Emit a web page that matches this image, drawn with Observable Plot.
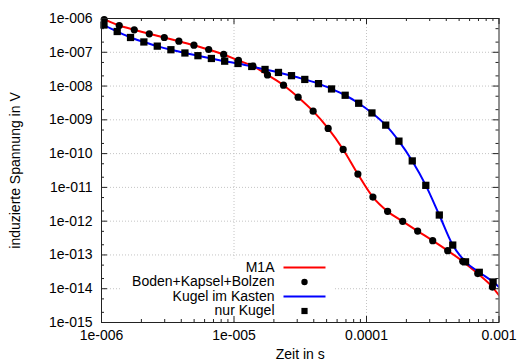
<!DOCTYPE html>
<html><head><meta charset="utf-8">
<script src="https://cdn.jsdelivr.net/npm/d3@7"></script>
<script src="https://cdn.jsdelivr.net/npm/@observablehq/plot@0.6"></script>
<style>body{margin:0;background:#fff}svg{display:block}</style>
</head><body><div id="chart"></div>
<script>
// Boden+Kapsel+Bolzen (circles) and M1A line
const bkbT = [1.048e-6,1.361e-6,1.767e-6,2.294e-6,2.978e-6,3.838e-6,4.985e-6,6.44e-6,8.357e-6,1.080e-5,1.39e-5,1.789e-5,2.363e-5,3.047e-5,3.955e-5,5.135e-5,6.666e-5,8.61e-5,1.118e-4,1.443e-4,1.875e-4,2.432e-4,3.160e-4,4.10e-4,5.325e-4,6.916e-4,8.916e-4];
const bkbV = [9.34e-7,6.21e-7,4.63e-7,3.53e-7,2.74e-7,2.13e-7,1.62e-7,1.21e-7,8.61e-8,5.72e-8,3.88e-8,2.13e-8,1.06e-8,4.70e-9,1.81e-9,5.57e-10,1.33e-10,2.47e-11,5.16e-12,1.95e-12,9.86e-13,5.09e-13,2.65e-13,1.34e-13,6.47e-14,2.80e-14,1.12e-14];
const m1aEndT = [1e-6, 1e-3];
const m1aEndV = [1.0e-6, 6.4e-15];
// nur Kugel (squares) and Kugel im Kasten line
const kugT = [1.044e-6,1.314e-6,1.656e-6,2.088e-6,2.636e-6,3.341e-6,4.262e-6,5.343e-6,6.750e-6,8.505e-6,1.072e-5,1.361e-5,1.715e-5,2.166e-5,2.716e-5,3.422e-5,4.343e-5,5.446e-5,6.902e-5,8.73e-5,1.099e-4,1.397e-4,1.757e-4,2.215e-4,2.803e-4,3.544e-4,4.475e-4,5.590e-4,7.098e-4,9.024e-4];
const kugV = [6.42e-7,4.12e-7,2.74e-7,2.02e-7,1.52e-7,1.19e-7,9.53e-8,7.93e-8,6.55e-8,5.45e-8,4.66e-8,3.80e-8,3.10e-8,2.53e-8,2.03e-8,1.57e-8,1.18e-8,8.21e-9,5.34e-9,3.10e-9,1.60e-9,6.97e-10,2.34e-10,6.08e-11,1.15e-11,1.52e-12,1.96e-13,6.25e-14,3.06e-14,1.58e-14];
const kikEndT = [1e-6, 1e-3];
const kikEndV = [7.1e-7, 1.12e-14];

const xTicks = [1e-6, 1e-5, 1e-4, 1e-3];
const xTickLabels = ["1e-006", "1e-005", "0.0001", "0.001"];
const yTicks = [1e-6,1e-7,1e-8,1e-9,1e-10,1e-11,1e-12,1e-13,1e-14,1e-15];
const yTickLabels = ["1e-006","1e-007","1e-008","1e-009","1e-010","1e-011","1e-012","1e-013","1e-014","1e-015"];
const legendLabels = ["M1A", "Boden+Kapsel+Bolzen", "Kugel im Kasten", "nur Kugel"];
const xLabel = "Zeit in s";
const yLabel = "induzierte Spannung in V";

// layout
const W = 518, H = 364;
const mL = 101, mR = 19.5, mT = 18, mB = 42;
const fw = W - mL - mR, fh = H - mT - mB;
const majorLen = 6, minorLen = 3;

const pts = (T, V) => T.map((t, i) => ({t, v: V[i]}));
const bkb = pts(bkbT, bkbV);
const kug = pts(kugT, kugV);
const m1aLine = [pts(m1aEndT, m1aEndV)[0], ...bkb, pts(m1aEndT, m1aEndV)[1]];
const kikLine = [pts(kikEndT, kikEndV)[0], ...kug, pts(kikEndT, kikEndV)[1]];

const xMinor = [];
for (const d of xTicks.slice(0, -1)) for (let k = 2; k <= 9; k++) xMinor.push(d * k);
const yMinor = [];
for (const d of yTicks.slice(1)) for (const k of [2, 5]) yMinor.push(d * k);

const fmtX = new Map(xTicks.map((d, i) => [d, xTickLabels[i]]));
const fmtY = new Map(yTicks.map((d, i) => [d, yTickLabels[i]]));

const gridStyle = {stroke: "#c4c4c4", strokeDasharray: "1,2", strokeWidth: 1};
const tickStyle = {stroke: "#222", strokeWidth: 1};

// legend layout (pixel offsets from the frame's top-left)
const legTextDx = 173, legSymDx = 203;
const legRows = [249, 263.5, 278, 292.5];
const lineSym = {draw(ctx) { ctx.moveTo(-21, 0); ctx.lineTo(21, 0); }};
const legendMarks = legendLabels.flatMap((lab, i) => {
  const marks = [Plot.text([lab], {frameAnchor: "top-left", dx: legTextDx, dy: legRows[i], textAnchor: "end", lineAnchor: "middle", fill: "#000"})];
  if (i === 0) marks.push(Plot.dot([lab], {frameAnchor: "top-left", dx: legSymDx, dy: legRows[i], symbol: lineSym, fill: "none", stroke: "#ff0000", strokeWidth: 2}));
  if (i === 1) marks.push(Plot.dot([lab], {frameAnchor: "top-left", dx: legSymDx, dy: legRows[i], symbol: "circle", r: 3.2, fill: "#000"}));
  if (i === 2) marks.push(Plot.dot([lab], {frameAnchor: "top-left", dx: legSymDx, dy: legRows[i], symbol: lineSym, fill: "none", stroke: "#0000ff", strokeWidth: 2}));
  if (i === 3) marks.push(Plot.dot([lab], {frameAnchor: "top-left", dx: legSymDx, dy: legRows[i], symbol: "square", r: 3.5, fill: "#000"}));
  return marks;
});

const chart = Plot.plot({
  width: W, height: H,
  marginLeft: mL, marginRight: mR, marginTop: mT, marginBottom: mB,
  style: {fontFamily: "'Liberation Sans', Arial, sans-serif", fontSize: "14px", background: "#fff", color: "#000"},
  x: {type: "log", domain: [1e-6, 1e-3]},
  y: {type: "log", domain: [1e-15, 1e-6]},
  marks: [
    Plot.ruleX(xTicks.slice(1, -1), gridStyle),
    Plot.ruleY(yTicks.slice(1, -1), gridStyle),
    // legend box blanks the grid
    Plot.frame({fill: "#fff", stroke: null, insetLeft: 19, insetRight: 165, insetTop: 240, insetBottom: 4}),
    // inward ticks on all four sides
    Plot.ruleX(xTicks, {...tickStyle, insetTop: fh - majorLen}),
    Plot.ruleX(xTicks, {...tickStyle, insetBottom: fh - majorLen}),
    Plot.ruleX(xMinor, {...tickStyle, insetTop: fh - minorLen}),
    Plot.ruleX(xMinor, {...tickStyle, insetBottom: fh - minorLen}),
    Plot.ruleY(yTicks, {...tickStyle, insetRight: fw - majorLen}),
    Plot.ruleY(yTicks, {...tickStyle, insetLeft: fw - majorLen}),
    Plot.ruleY(yMinor, {...tickStyle, insetRight: fw - minorLen}),
    Plot.ruleY(yMinor, {...tickStyle, insetLeft: fw - minorLen}),
    // curves
    Plot.line(m1aLine, {x: "t", y: "v", stroke: "#ff0000", strokeWidth: 2, curve: "monotone-x", clip: true}),
    Plot.line(kikLine, {x: "t", y: "v", stroke: "#0000ff", strokeWidth: 2, curve: "monotone-x", clip: true}),
    Plot.dot(bkb, {x: "t", y: "v", symbol: "circle", r: 3.6, fill: "#000"}),
    Plot.dot(kug, {x: "t", y: "v", symbol: "square", r: 4.1, fill: "#000"}),
    Plot.frame({stroke: "#222", strokeWidth: 1}),
    Plot.axisX(xTicks, {tickSize: 0, tickPadding: 8, tickFormat: d => fmtX.get(d), label: null, fontSize: 14}),
    Plot.axisY(yTicks, {tickSize: 0, tickPadding: 9, tickFormat: d => fmtY.get(d), label: null, fontSize: 14}),
    Plot.text([xLabel], {frameAnchor: "bottom", dy: 32, textAnchor: "middle", lineAnchor: "middle", fill: "#000"}),
    Plot.text([yLabel], {frameAnchor: "left", dx: -86, rotate: -90, textAnchor: "middle", lineAnchor: "middle", fill: "#000"}),
    ...legendMarks
  ]
});
document.getElementById("chart").append(chart);
</script>
</body></html>
